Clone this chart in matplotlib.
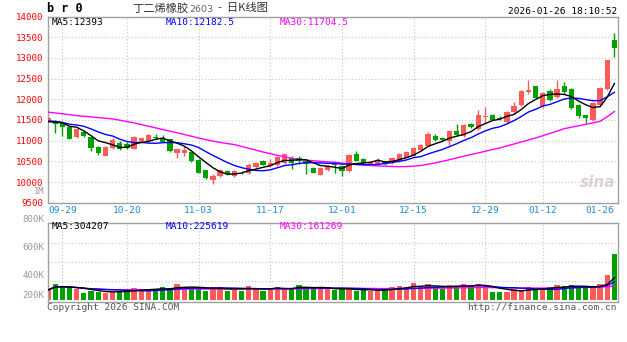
"""Daily K-line chart of butadiene rubber futures (br0) with MA lines and volume."""

import numpy as np
import pandas as pd
import matplotlib

matplotlib.use("Agg")
import matplotlib.pyplot as plt

W, H = 627, 342

# ---- data --------------------------------------------------------------
dates = ["09-29", "10-20", "11-03", "11-17", "12-01", "12-15", "12-29", "01-12", "01-26"]
date_idx = [2, 11, 21, 31, 41, 51, 61, 69, 79]

opens = [11470, 11480, 11430, 11320, 11080, 11210, 11080, 10840, 10630, 10820,
         10950, 10920, 10810, 10980, 10980, 11100, 11070, 11030, 10710, 10700,
         10730, 10540, 10280, 10060, 10140, 10270, 10150, 10230, 10220, 10360,
         10520, 10390, 10410, 10460, 10590, 10570, 10500, 10340, 10180, 10300,
         10440, 10380, 10270, 10680, 10560, 10430, 10440, 10500, 10450, 10510,
         10590, 10640, 10770, 10880, 11120, 11060, 11000, 11240, 11110, 11400,
         11280, 11570, 11630, 11560, 11440, 11690, 11870, 12170, 12310, 11850,
         12190, 12050, 12310, 12250, 11870, 11620, 11510, 11870, 12250, 13440]
closes = [11560, 11400, 11330, 11050, 11290, 11110, 10830, 10700, 10840, 11020,
          10800, 10830, 11080, 11060, 11140, 11060, 10970, 10750, 10790, 10770,
          10500, 10230, 10090, 10140, 10280, 10200, 10260, 10210, 10420, 10470,
          10420, 10450, 10600, 10670, 10470, 10520, 10430, 10230, 10350, 10380,
          10400, 10270, 10660, 10520, 10450, 10490, 10520, 10440, 10580, 10680,
          10730, 10830, 10900, 11160, 11010, 11010, 11230, 11130, 11380, 11340,
          11610, 11600, 11510, 11530, 11700, 11830, 12190, 12230, 12030, 12150,
          11990, 12250, 12165, 11790, 11590, 11550, 11910, 12270, 12940, 13240]
highs = [11600, 11500, 11460, 11340, 11310, 11250, 11100, 10860, 10870, 11060,
         10980, 10960, 11120, 11070, 11160, 11170, 11140, 11050, 10800, 10870,
         10760, 10560, 10300, 10190, 10320, 10290, 10280, 10260, 10460, 10490,
         10540, 10560, 10620, 10680, 10620, 10640, 10540, 10360, 10370, 10400,
         10480, 10400, 10680, 10750, 10580, 10510, 10580, 10520, 10600, 10700,
         10750, 10850, 10920, 11210, 11170, 11080, 11270, 11400, 11410, 11430,
         11740, 11810, 11650, 11600, 11720, 11930, 12220, 12470, 12330, 12170,
         12240, 12470, 12430, 12280, 11880, 11630, 11930, 12290, 12950, 13600]
lows = [11440, 11190, 11110, 11040, 11060, 11100, 10750, 10660, 10620, 10800,
        10780, 10800, 10790, 10960, 10960, 11040, 10960, 10730, 10580, 10630,
        10490, 10210, 10070, 9960, 10120, 10180, 10130, 10190, 10200, 10340,
        10400, 10370, 10390, 10440, 10310, 10440, 10200, 10220, 10170, 10270,
        10230, 10140, 10250, 10500, 10420, 10420, 10420, 10420, 10430, 10490,
        10570, 10620, 10750, 10860, 10990, 10980, 10900, 11110, 11090, 11300,
        11250, 11430, 11490, 11500, 11420, 11670, 11850, 12140, 12010, 11790,
        11970, 12030, 12140, 11760, 11560, 11430, 11480, 11850, 12230, 13030]
# closes before the visible window (feed MA5 / MA10 at the left edge)
prior_closes = [11520, 11560, 11500, 11480, 11430, 11450, 11420, 11460, 11400]
# MA30 as drawn (needs history outside the window)
ma30 = [11690, 11670, 11650, 11628, 11605, 11590, 11575, 11558, 11542, 11525,
        11495, 11462, 11430, 11390, 11350, 11310, 11270, 11230, 11190, 11150,
        11108, 11065, 11025, 10990, 10958, 10930, 10905, 10860, 10815, 10770,
        10725, 10685, 10645, 10610, 10575, 10545, 10530, 10515, 10500, 10488,
        10478, 10458, 10438, 10425, 10412, 10400, 10390, 10383, 10376, 10372,
        10375, 10385, 10400, 10430, 10462, 10500, 10540, 10582, 10624, 10664,
        10704, 10744, 10784, 10824, 10872, 10920, 10968, 11016, 11065, 11120,
        11176, 11232, 11290, 11326, 11360, 11395, 11430, 11467, 11580, 11704]
volumes_k = [103, 166, 145, 121, 110, 75, 96, 85, 75, 85,
             85, 110, 121, 103, 110, 110, 131, 121, 163, 131,
             121, 121, 96, 131, 131, 96, 121, 96, 145, 121,
             96, 121, 131, 121, 121, 155, 131, 110, 131, 110,
             103, 121, 110, 96, 103, 96, 96, 121, 131, 145,
             131, 173, 131, 163, 131, 110, 155, 145, 166, 145,
             166, 131, 85, 85, 85, 110, 103, 131, 110, 121,
             131, 155, 145, 155, 131, 121, 131, 166, 257, 478]

price_ticks = [9500, 10000, 10500, 11000, 11500, 12000, 12500, 13000, 13500, 14000]
vol_labels = ["800K", "600K", "400K", "200K"]

RED = "#ff5a5a"
GREEN = "#00a000"
GRID = "#c4c4c4"
BORDER = "#a0a0a0"

plt.rcParams["font.family"] = ["DejaVu Sans Mono"]
CJK = ["Noto Sans CJK SC", "DejaVu Sans"]


def fx(x):
    return x / W


def fy(y):
    return 1 - y / H


def style_panel(ax):
    for s in ax.spines.values():
        s.set_color(BORDER)
        s.set_linewidth(1.0)
    ax.tick_params(length=0)
    ax.set_xlim(-0.04, 79.46)
    ax.set_xticks(date_idx)
    ax.grid(True, linestyle=(0, (1, 2)), color=GRID, linewidth=0.8)
    ax.set_axisbelow(True)
    # the last date sits on the right border, no grid line drawn there
    ax.get_xgridlines()[-1].set_visible(False)


def main():
    n = len(closes)
    x = np.arange(n)
    o, c = np.array(opens), np.array(closes)
    hi, lo = np.array(highs), np.array(lows)
    up = c >= o
    colors = np.where(up, RED, GREEN)

    full = pd.Series(prior_closes + closes)
    ma5 = full.rolling(5).mean().to_numpy()[len(prior_closes):]
    ma10 = full.rolling(10).mean().to_numpy()[len(prior_closes):]

    vol = pd.Series(volumes_k) * 1000
    vma5 = vol.rolling(5, min_periods=1).mean()
    vma10 = vol.rolling(10, min_periods=1).mean()
    vma30 = vol.rolling(30, min_periods=1).mean()

    fig = plt.figure(figsize=(W / 100, H / 100), dpi=100)

    # ---- price panel ----
    ax = fig.add_axes([fx(47.7), fy(202.7), fx(617.7) - fx(47.7), fy(16.6) - fy(202.7)])
    style_panel(ax)
    ax.set_ylim(9500, 14000)
    ax.set_yticks(price_ticks)
    ax.set_yticklabels([str(t) for t in price_ticks], color="#ff0000", fontsize=6.6)
    ax.set_xticklabels(dates, color="#1b8bd0", fontsize=6.8)
    ax.tick_params(axis="x", pad=2.5)
    ax.tick_params(axis="y", pad=3)
    ax.get_xticklabels()[-1].set_horizontalalignment("right")

    ax.vlines(x, lo, hi, colors=colors, linewidth=1, zorder=2)
    body = np.maximum(np.abs(c - o), 15)
    ax.bar(x, body, bottom=np.minimum(o, c), width=0.74, color=colors, linewidth=0, zorder=3)

    ax.plot(x, ma30, color="#ff00ff", linewidth=1, zorder=4)
    ax.plot(x, ma10, color="#0000ff", linewidth=1, zorder=4)
    ax.plot(x, ma5, color="#000000", linewidth=1, zorder=5)

    ax.text(0.995, 0.11, "sina", transform=ax.transAxes, ha="right", va="center",
            fontsize=11, fontstyle="italic", fontweight="bold", color="#dccfcf",
            family="DejaVu Sans", zorder=1)

    # ---- volume panel ----
    axv = fig.add_axes([fx(47.7), fy(301.7), fx(617.7) - fx(47.7), fy(222.7) - fy(301.7)])
    style_panel(axv)
    axv.set_ylim(-20000, 810000)
    axv.set_yticks([200000, 400000, 600000])
    axv.set_yticklabels([])
    axv.set_xticklabels([])
    axv.bar(x, vol, width=0.74, color=colors, linewidth=0, zorder=2)
    axv.plot(x, vma30, color="#ff00ff", linewidth=1, zorder=3)
    axv.plot(x, vma10, color="#0000ff", linewidth=1, zorder=3)
    axv.plot(x, vma5, color="#000000", linewidth=1, zorder=4)

    # ---- texts ----
    fig.text(fx(47), fy(9), "b r 0", fontsize=8.5, fontweight="bold", va="center")
    fig.text(fx(132), fy(8.5), "丁二烯橡胶", family=CJK, fontsize=8.1, color="#333333", va="center")
    fig.text(fx(189), fy(9), "2603", family="DejaVu Sans", fontsize=6.8, color="#666666", va="center")
    fig.text(fx(218), fy(8.5), "-  日K线图", family=CJK, fontsize=8.1, color="#333333", va="center")
    fig.text(fx(617), fy(11), "2026-01-26 18:10:52", fontsize=6.8, ha="right", va="center")

    fig.text(fx(52), fy(22.5), "MA5:12393", fontsize=6.8, color="#000000", va="center")
    fig.text(fx(165.7), fy(22.5), "MA10:12182.5", fontsize=6.8, color="#0000ff", va="center")
    fig.text(fx(280), fy(22.5), "MA30:11704.5", fontsize=6.8, color="#ff00ff", va="center")

    fig.text(fx(52), fy(226.5), "MA5:304207", fontsize=6.8, color="#000000", va="center")
    fig.text(fx(165.7), fy(226.5), "MA10:225619", fontsize=6.8, color="#0000ff", va="center")
    fig.text(fx(280), fy(226.5), "MA30:161269", fontsize=6.8, color="#ff00ff", va="center")

    fig.text(fx(44.5), fy(191.5), "1M", fontsize=6.3, color="#999999", ha="right", va="center")
    for label, ypix in zip(vol_labels, [219, 247.7, 276, 295]):
        fig.text(fx(44.5), fy(ypix), label, fontsize=6.6, color="#999999", ha="right", va="center")

    fig.text(fx(47), fy(307.5), "Copyright 2026 SINA.COM", fontsize=6.8, color="#555555", va="center")
    fig.text(fx(617), fy(307.5), "http://finance.sina.com.cn", fontsize=6.8, color="#555555",
             ha="right", va="center")

    fig.savefig("out.png", dpi=100)


if __name__ == "__main__":
    main()
